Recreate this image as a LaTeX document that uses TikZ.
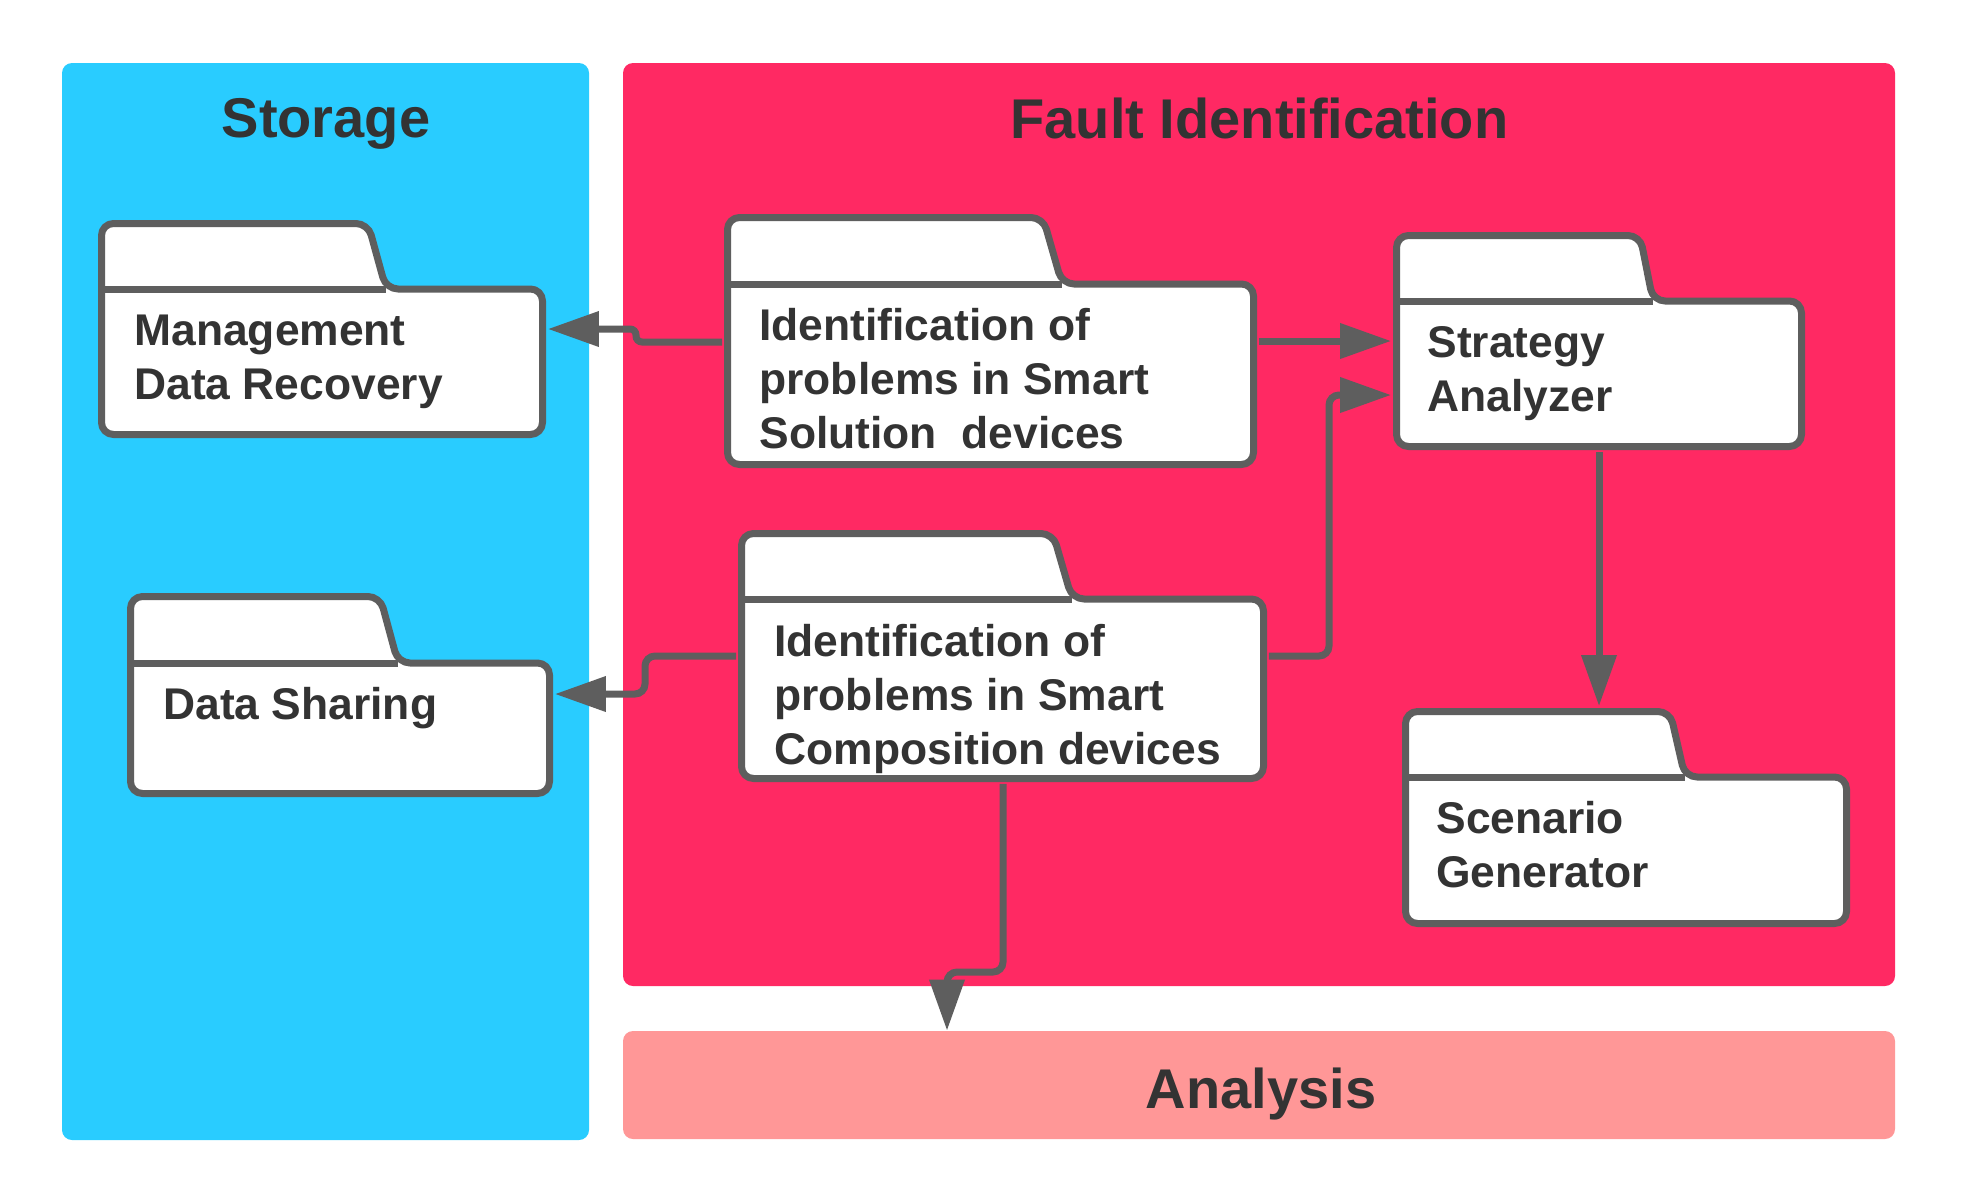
\documentclass[tikz,border=0pt]{standalone}
\usepackage{fontspec}
\setmainfont{Liberation Sans}
\usetikzlibrary{arrows.meta,fit}
\definecolor{storeblue}{RGB}{41,204,255}
\definecolor{faultred}{RGB}{255,41,99}
\definecolor{anapink}{RGB}{255,151,151}
\definecolor{linegray}{RGB}{94,94,94}
\definecolor{textgray}{RGB}{51,51,51}
\tikzset{
  panel/.style={draw=none, rounded corners=5pt, inner sep=0pt},
  folder/.style={draw=linegray, fill=white, line width=3.5pt, rounded corners=6pt, line join=round},
  folderline/.style={draw=linegray, line width=3.5pt},
  fitbox/.style={draw=none, inner sep=2.5pt},
  conn/.style={draw=linegray, line width=3.5pt, -{Triangle[length=25.5pt,width=17pt]}},
  title/.style={text=textgray, font=\fontsize{28}{34}\selectfont\bfseries, inner sep=0pt},
  label/.style={text=textgray, font=\fontsize{22.2}{27}\selectfont\bfseries, inner sep=0pt, anchor=base west},
}
\newcommand{\drawfolder}[8]{%
  \draw[folder] (#2,#4) -- (#2,#3) -- (#7,#3) -- (#8,#4) -- (#5,#4) -- (#5,#6) -- (#2,#6) -- cycle;
  \draw[folderline] (#2,#4) -- (#8,#4);
  \node[fitbox, fit={(#2,#3) (#5,#6)}] (#1) {};
}
\newcommand{\lines}[1]{\vtop{\baselineskip=27pt #1}}
\begin{document}
\begin{tikzpicture}[x=0.5pt, y=-0.5pt]
\useasboundingbox (0,0) rectangle (1963,1201);
% panels
\node[panel, fill=storeblue, minimum width=263.5pt, minimum height=538.5pt] (storage) at (325.5,601.5) {};
\node[panel, fill=faultred, minimum width=636pt, minimum height=461.5pt] (fault) at (1259,524.5) {};
\node[panel, fill=anapink, minimum width=636pt, minimum height=54pt] (ana) at (1259,1085) {};
\node[title, anchor=base] (storageT) at (326,137) {Storage};
\node[title, anchor=base] (faultT) at (1259.5,138) {Fault Identification};
\node[title, anchor=base] (anaT) at (1261,1108) {Analysis};
% folders: name, L, T, Y, R, B, X1, X2
\drawfolder{mgmt}{101.5}{223.5}{289}{542.5}{434.5}{368}{386}
\drawfolder{sol}{727.5}{217.5}{284}{1253.5}{464.5}{1043}{1062}
\drawfolder{strat}{1396.5}{235.5}{301}{1801.5}{446.5}{1640}{1653}
\drawfolder{comp}{741.5}{533.5}{599}{1263.5}{778.5}{1053}{1072}
\drawfolder{ds}{130.5}{596.5}{663}{549.5}{793.5}{380}{398}
\drawfolder{scen}{1405.5}{711.5}{777}{1846.5}{923.5}{1670}{1685}
% labels
\node[label] (mgmtT) at (134,345) {\lines{\hbox{Management}\hbox{Data Recovery}}};
\node[label] (solT) at (759,340) {\lines{\hbox{Identification of}\hbox{problems in Smart}\hbox{Solution\ \ devices}}};
\node[label] (stratT) at (1427,357) {\lines{\hbox{Strategy}\hbox{Analyzer}}};
\node[label] (compT) at (774,656) {\lines{\hbox{Identification of}\hbox{problems in Smart}\hbox{Composition devices}}};
\node[label] (dsT) at (163,719) {Data Sharing};
\node[label] (scenT) at (1436,833) {\lines{\hbox{Scenario}\hbox{Generator}}};
% connectors
\draw[conn, rounded corners=3pt] (sol.west |- 0,342) -- (636,342) -- (636,329) -- (mgmt.east |- 0,329);
\draw[conn] (sol.east |- 0,341) -- (strat.west |- 0,341);
\draw[conn, rounded corners=5pt] (comp.east |- 0,656) -- (1329,656) -- (1329,395) -- (strat.west |- 0,395);
\draw[conn] (strat.south -| 1599,0) -- (scen.north -| 1599,0);
\draw[conn, rounded corners=5pt] (comp.west |- 0,656) -- (645,656) -- (645,694) -- (ds.east |- 0,694);
\draw[conn, rounded corners=5pt] (comp.south -| 1003,0) -- (1003,972) -- (947,972) -- (ana.north -| 947,0);
\end{tikzpicture}
\end{document}
